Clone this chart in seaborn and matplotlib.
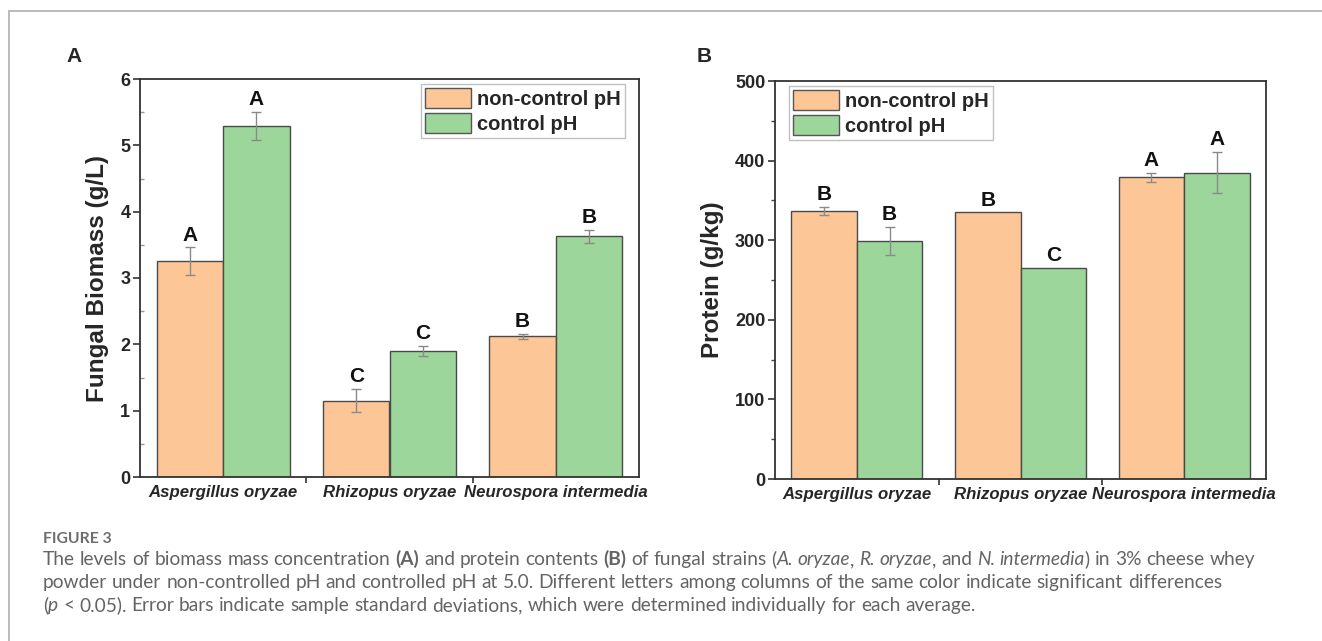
import re
import numpy as np
import pandas as pd
import seaborn as sns
import matplotlib
matplotlib.use("Agg")
import matplotlib.pyplot as plt
from matplotlib.lines import Line2D
from matplotlib.patches import Patch
from matplotlib.ticker import MultipleLocator, FixedLocator, NullFormatter

# ---------------- data ----------------
strains = ["Aspergillus oryzae", "Rhizopus oryzae", "Neurospora intermedia"]
conditions = ["non-control pH", "control pH"]

biomass_noncontrol = [3.25, 1.15, 2.12]
biomass_noncontrol_sd = [0.21, 0.175, 0.04]
biomass_control = [5.29, 1.90, 3.63]
biomass_control_sd = [0.21, 0.08, 0.095]
biomass_letters_noncontrol = ["A", "C", "B"]
biomass_letters_control = ["A", "C", "B"]

protein_noncontrol = [337, 335, 379]
protein_noncontrol_sd = [5, 0, 6]
protein_control = [299, 265, 385]
protein_control_sd = [18, 0, 26]
protein_letters_noncontrol = ["B", "B", "A"]
protein_letters_control = ["B", "C", "A"]

bar_colors = ["#FCC697", "#9CD69A"]

caption_label = "FIGURE 3"
caption_lines = [
    [("The levels of biomass mass concentration ", "normal", "normal"),
     ("(A)", "bold", "normal"),
     (" and protein contents ", "normal", "normal"),
     ("(B)", "bold", "normal"),
     (" of fungal strains (", "normal", "normal"),
     ("A. oryzae", "normal", "italic"),
     (", ", "normal", "normal"),
     ("R. oryzae", "normal", "italic"),
     (", and ", "normal", "normal"),
     ("N. intermedia", "normal", "italic"),
     (") in 3% cheese whey", "normal", "normal")],
    [("powder under non-controlled pH and controlled pH at 5.0. Different letters among columns of the same color indicate significant differences",
      "normal", "normal")],
    [("(", "normal", "normal"),
     ("p", "normal", "italic"),
     (" < 0.05). Error bars indicate sample standard deviations, which were determined individually for each average.",
      "normal", "normal")],
]

# ---------------- style ----------------
sns.set_style("ticks")
plt.rcParams["font.family"] = ["Liberation Sans", "DejaVu Sans"]
plt.rcParams["axes.linewidth"] = 1.3
plt.rcParams["axes.edgecolor"] = "#333333"

W, H = 1322, 641
fig = plt.figure(figsize=(W / 100, H / 100), dpi=100)
fig.patch.set_facecolor("white")


def px_axes(left, top, right, bottom):
    return fig.add_axes([left / W, 1 - bottom / H, (right - left) / W, (bottom - top) / H])


axA = px_axes(140, 79, 639, 477)
axB = px_axes(775, 81, 1266, 479)


def make_df(nc, nc_sd, c, c_sd):
    return pd.DataFrame({
        "strain": strains * 2,
        "condition": [conditions[0]] * 3 + [conditions[1]] * 3,
        "value": list(nc) + list(c),
        "sd": list(nc_sd) + list(c_sd),
    })


def draw_panel(ax, df, letters_nc, letters_c, ylim, major, minor, ylabel,
               legend_loc, legend_anchor, minor_dir):
    sns.barplot(data=df, x="strain", y="value", hue="condition",
                order=strains, hue_order=conditions, palette=bar_colors,
                errorbar=None, edgecolor="#4a4a4a", linewidth=1.0,
                width=0.8, saturation=1, legend=False, ax=ax)
    letters = [letters_nc, letters_c]
    for i, cond in enumerate(conditions):
        sub = df[df["condition"] == cond].set_index("strain").loc[strains]
        cont = ax.containers[i]
        xs = [b.get_x() + b.get_width() / 2 for b in cont]
        hs = [b.get_height() for b in cont]
        sds = list(sub["sd"])
        ex = [x for x, s in zip(xs, sds) if s > 0]
        ey = [h for h, s in zip(hs, sds) if s > 0]
        es = [s for s in sds if s > 0]
        ax.errorbar(ex, ey, yerr=es, fmt="none", ecolor="#8a8a8a",
                    elinewidth=1.0, capsize=3.5, capthick=1.0, zorder=5)
        for x, h, s, let in zip(xs, hs, sds, letters[i]):
            ax.annotate(let, (x, h + s), xytext=(0, 2.0), textcoords="offset points",
                        ha="center", va="bottom", fontsize=15, fontweight="bold",
                        color="#111111")
    ax.set_xlim(-0.5, 2.5)
    ax.set_ylim(*ylim)
    ax.yaxis.set_major_locator(MultipleLocator(major))
    ax.yaxis.set_minor_locator(MultipleLocator(minor))
    ax.set_xlabel("")
    ax.set_ylabel(ylabel, fontsize=17.5, fontweight="bold", labelpad=8)
    ax.set_xticks(range(len(strains)))
    ax.set_xticklabels(strains, fontsize=12.1, fontweight="bold", fontstyle="italic")
    ax.xaxis.set_minor_locator(FixedLocator([0.5, 1.5]))
    ax.xaxis.set_minor_formatter(NullFormatter())
    ax.tick_params(axis="x", which="major", length=0, pad=6)
    ax.tick_params(axis="x", which="minor", length=4, width=1.2, direction="out", color="#333333")
    ax.tick_params(axis="y", which="major", length=5, width=1.2, direction="out",
                   labelsize=13, color="#333333", pad=2)
    ax.tick_params(axis="y", which="minor", length=3, width=1.0, direction=minor_dir,
                   color="#999999" if minor_dir == "in" else "#444444")
    for lab in ax.get_yticklabels():
        lab.set_fontweight("bold")
    for sp in ax.spines.values():
        sp.set_visible(True)
        sp.set_color("#333333")
        sp.set_linewidth(1.3)
    handles = [Patch(facecolor=bar_colors[0], edgecolor="#555555", linewidth=1.0),
               Patch(facecolor=bar_colors[1], edgecolor="#555555", linewidth=1.0)]
    leg = ax.legend(handles, conditions, loc=legend_loc, bbox_to_anchor=legend_anchor,
                    borderaxespad=0, frameon=True, fancybox=False, framealpha=1,
                    edgecolor="#c0c0c0",
                    prop={"family": ["Liberation Sans"], "weight": "bold", "size": 14.5},
                    handlelength=2.3, handleheight=1.15, labelspacing=0.22,
                    handletextpad=0.3, borderpad=0.2)
    leg.get_frame().set_linewidth(1.0)


dfA = make_df(biomass_noncontrol, biomass_noncontrol_sd, biomass_control, biomass_control_sd)
dfB = make_df(protein_noncontrol, protein_noncontrol_sd, protein_control, protein_control_sd)

draw_panel(axA, dfA, biomass_letters_noncontrol, biomass_letters_control,
           (0, 6), 1, 0.5, "Fungal Biomass (g/L)", "upper right",
           (1 - 14 / 499, 1 - 5 / 398), "in")
draw_panel(axB, dfB, protein_letters_noncontrol, protein_letters_control,
           (0, 500), 100, 50, "Protein (g/kg)", "upper left",
           (14 / 491, 1 - 5 / 398), "out")

# panel letters
fig.text(74 / W, 1 - 57 / H, "A", ha="center", va="center", fontsize=15, fontweight="bold")
fig.text(704 / W, 1 - 57 / H, "B", ha="center", va="center", fontsize=15, fontweight="bold")

# frame lines of the figure box
fig.add_artist(Line2D([9 / W, 1.0], [1 - 11 / H, 1 - 11 / H], transform=fig.transFigure,
                      color="#b5b5b5", linewidth=1.3))
fig.add_artist(Line2D([9 / W, 9 / W], [0.0, 1 - 11 / H], transform=fig.transFigure,
                      color="#b5b5b5", linewidth=1.3))

# ---------------- caption ----------------
CAP_FONT = ["Lato", "DejaVu Sans"]
CAP_COLOR = "#646464"
renderer = fig.canvas.get_renderer()


def text_width(s, size, weight, style):
    t = fig.text(0, 0, s, fontsize=size, fontweight=weight, fontstyle=style, family=CAP_FONT)
    w = t.get_window_extent(renderer).width
    t.remove()
    return w


def space_width(size, weight, style):
    return text_width("a a", size, weight, style) - text_width("aa", size, weight, style)


def draw_runs(runs, x_px, y_px, size, draw=True):
    x = x_px
    for text, weight, style in runs:
        sw = space_width(size, weight, style)
        for piece in re.split(r"( )", text):
            if piece == "":
                continue
            if piece == " ":
                x += sw
                continue
            if draw:
                t = fig.text(x / W, 1 - y_px / H, piece, fontsize=size, fontweight=weight,
                             fontstyle=style, family=CAP_FONT, color=CAP_COLOR,
                             ha="left", va="baseline")
                x += t.get_window_extent(renderer).width
            else:
                x += text_width(piece, size, weight, style)
    return x - x_px


base = 10.0
natural = draw_runs(caption_lines[0], 0, 0, base, draw=False)
cap_size = base * (1260 - 43) / natural

fig.text(43 / W, 1 - 543 / H, caption_label, fontsize=cap_size * 0.82, fontweight="bold",
         family=CAP_FONT, color="#6e6e6e", ha="left", va="baseline")
for i, line in enumerate(caption_lines):
    draw_runs(line, 43, 565 + 23 * i, cap_size)

fig.savefig("out.png", dpi=100, facecolor="white")
